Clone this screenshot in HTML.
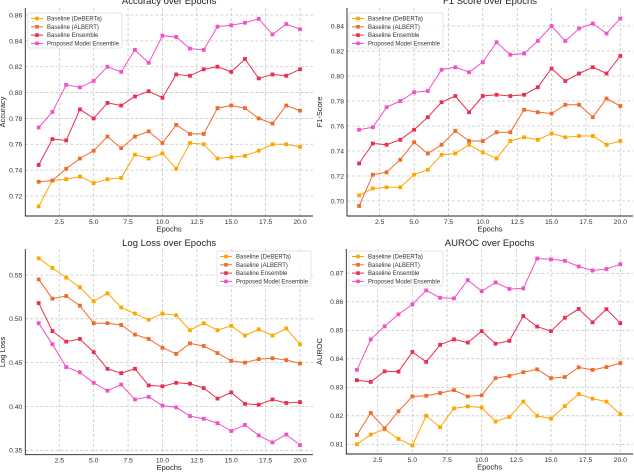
<!DOCTYPE html>
<html><head><meta charset="utf-8">
<style>
html,body{margin:0;padding:0;background:#fff;width:634px;height:472px;overflow:hidden}
svg{display:block;font-family:"Liberation Sans",sans-serif}
</style></head>
<body>
<svg id="fig" width="634" height="472" viewBox="0 0 634 472"></svg>
<script>
const epochs=[1,2,3,4,5,6,7,8,9,10,11,12,13,14,15,16,17,18,19,20];
const seriesNames=["Baseline (DeBERTa)","Baseline (ALBERT)","Baseline Ensemble","Proposed Model Ensemble"];
const colors=["#ffa500","#f26a2b","#e92e50","#f251c6"];
const xTicks=[2.5,5.0,7.5,10.0,12.5,15.0,17.5,20.0];

const accDeberta=[0.712,0.732,0.733,0.735,0.730,0.733,0.734,0.752,0.749,0.753,0.741,0.761,0.760,0.749,0.750,0.751,0.755,0.760,0.760,0.758];
const accAlbert=[0.731,0.732,0.741,0.749,0.755,0.766,0.757,0.766,0.770,0.761,0.775,0.768,0.768,0.788,0.790,0.788,0.780,0.776,0.790,0.786];
const accEnsemble=[0.744,0.764,0.763,0.787,0.780,0.792,0.790,0.797,0.801,0.796,0.814,0.813,0.818,0.820,0.816,0.826,0.811,0.814,0.813,0.818];
const accProposed=[0.773,0.785,0.806,0.804,0.809,0.820,0.816,0.833,0.823,0.844,0.843,0.834,0.833,0.851,0.852,0.854,0.857,0.845,0.853,0.849];
const accTicks=[0.72,0.74,0.76,0.78,0.80,0.82,0.84,0.86];

const f1Deberta=[0.7045,0.710,0.711,0.711,0.721,0.725,0.737,0.738,0.745,0.739,0.734,0.748,0.751,0.749,0.754,0.751,0.752,0.752,0.745,0.748];
const f1Albert=[0.696,0.721,0.723,0.733,0.747,0.738,0.745,0.756,0.748,0.748,0.755,0.755,0.773,0.771,0.770,0.777,0.777,0.767,0.782,0.776];
const f1Ensemble=[0.730,0.746,0.745,0.749,0.757,0.767,0.779,0.784,0.771,0.784,0.785,0.784,0.785,0.791,0.806,0.796,0.802,0.807,0.802,0.816];
const f1Proposed=[0.757,0.759,0.775,0.780,0.787,0.788,0.805,0.807,0.803,0.811,0.827,0.817,0.818,0.828,0.840,0.828,0.838,0.842,0.834,0.846];
const f1Ticks=[0.70,0.72,0.74,0.76,0.78,0.80,0.82,0.84];

const llDeberta=[0.569,0.558,0.547,0.536,0.520,0.529,0.513,0.506,0.499,0.506,0.504,0.487,0.495,0.487,0.492,0.481,0.488,0.481,0.489,0.471];
const llAlbert=[0.545,0.523,0.526,0.515,0.495,0.495,0.493,0.482,0.477,0.467,0.460,0.472,0.469,0.461,0.452,0.450,0.454,0.455,0.453,0.449];
const llEnsemble=[0.518,0.486,0.474,0.477,0.462,0.443,0.438,0.443,0.424,0.423,0.427,0.426,0.421,0.409,0.416,0.403,0.402,0.408,0.404,0.405];
const llProposed=[0.495,0.471,0.445,0.439,0.427,0.418,0.425,0.408,0.411,0.401,0.399,0.389,0.386,0.381,0.372,0.379,0.367,0.359,0.368,0.356];
const llTicks=[0.35,0.40,0.45,0.50,0.55];

const aucDeberta=[0.810,0.8134,0.8153,0.8119,0.8096,0.820,0.816,0.8226,0.8233,0.8229,0.818,0.8196,0.825,0.820,0.819,0.8234,0.8276,0.826,0.825,0.8206];
const aucAlbert=[0.8133,0.821,0.8156,0.8216,0.8268,0.827,0.828,0.829,0.8268,0.8272,0.8332,0.834,0.8353,0.8363,0.8332,0.8336,0.837,0.8361,0.8371,0.8385];
const aucEnsemble=[0.8325,0.8319,0.8356,0.8355,0.8424,0.8389,0.8449,0.8468,0.8457,0.8497,0.8453,0.8463,0.855,0.8513,0.8497,0.8544,0.8575,0.8528,0.8574,0.8525];
const aucProposed=[0.8361,0.8468,0.8514,0.8556,0.8591,0.864,0.8614,0.8612,0.8676,0.8637,0.8668,0.8645,0.8647,0.8752,0.8749,0.8744,0.8724,0.871,0.8715,0.8732];
const aucTicks=[0.81,0.82,0.83,0.84,0.85,0.86,0.87];

const NS="http://www.w3.org/2000/svg";
const svg=document.getElementById('fig');
function mk(tag,attrs,parent){const e=document.createElementNS(NS,tag);for(const k in attrs)e.setAttribute(k,attrs[k]);(parent||svg).appendChild(e);return e;}

function drawChart(c){
  const g=mk('g',{});
  
  
  const sx=v=>c.x1p+(v-c.x1v)*(c.x2p-c.x1p)/(c.x2v-c.x1v);
  const sy=v=>c.y1p+(v-c.y1v)*(c.y2p-c.y1p)/(c.y2v-c.y1v);
  xTicks.forEach(t=>{
    const l=mk('line',{x1:sx(t),x2:sx(t),y1:c.top,y2:c.bottom,stroke:'#c8c8c8','stroke-width':0.8,'stroke-dasharray':'3,2'},g);
    
    
    const tx=mk('text',{x:sx(t),y:c.bottom+8,'font-size':6.8,fill:'#333','text-anchor':'middle'},g);
    tx.textContent=t.toFixed(1);
    
    
  });
  c.yticks.forEach(t=>{
    const l=mk('line',{x1:c.left,x2:c.right,y1:sy(t),y2:sy(t),stroke:'#c8c8c8','stroke-width':0.8,'stroke-dasharray':'3,2'},g);
    
    
    const tx=mk('text',{x:c.left-3,y:sy(t)+2.4,'font-size':6.8,fill:'#333','text-anchor':'end'},g);
    tx.textContent=t.toFixed(2);
    
    
  });
  const ax=mk('path',{d:`M${c.left},${c.top}V${c.bottom}H${c.right}`,stroke:'#222','stroke-width':0.9,fill:'none'},g);
  
  
  c.series.forEach((vals,i)=>{
    const pts=vals.map((v,j)=>sx(epochs[j]).toFixed(1)+','+sy(v).toFixed(1)).join(' ');
    const pl=mk('polyline',{points:pts,fill:'none',stroke:colors[i],'stroke-width':1},g);
    
    
    vals.forEach((v,j)=>{
      const r=mk('rect',{x:sx(epochs[j])-1.9,y:sy(v)-1.9,width:3.8,height:3.8,fill:colors[i]},g);
      
      
    });
  });
  const ti=mk('text',{x:(c.left+c.right)/2,y:c.titleY,'font-size':9.5,fill:'#222','text-anchor':'middle'},g);
  ti.textContent=c.title;
  
  
  const xl=mk('text',{x:(c.left+c.right)/2,y:c.bottom+15.5,'font-size':7.5,fill:'#222','text-anchor':'middle'},g);
  xl.textContent='Epochs';
  
  
  const yc=(c.top+c.bottom)/2;
  const yl=mk('text',{x:c.ylabX,y:yc,'font-size':7.5,fill:'#222','text-anchor':'middle',transform:`rotate(-90 ${c.ylabX} ${yc})`},g);
  yl.textContent=c.ylabel;
  
  
  const lg=mk('g',{},g);
  
  
  mk('rect',{x:c.lx,y:c.ly,width:94,height:35,fill:'#fff','fill-opacity':0.85,stroke:'#ddd','stroke-width':0.7,rx:1.5},lg);
  seriesNames.forEach((n,i)=>{
    const yy=c.ly+5.5+i*8.3;
    const e=mk('g',{},lg);
    
    
    mk('line',{x1:c.lx+3,x2:c.lx+15,y1:yy,y2:yy,stroke:colors[i],'stroke-width':1},e);
    mk('rect',{x:c.lx+7.2,y:yy-1.8,width:3.6,height:3.6,fill:colors[i]},e);
    const t=mk('text',{x:c.lx+19,y:yy+2.1,'font-size':6,fill:'#333'},e);
    t.textContent=n;
  });
}

drawChart({name:'accuracy-chart',title:'Accuracy over Epochs',ylabel:'Accuracy',series:[accDeberta,accAlbert,accEnsemble,accProposed],yticks:accTicks,
  x1v:2.5,x1p:59.3,x2v:20,x2p:300,y1v:0.72,y1p:196,y2v:0.86,y2p:15,left:25.3,right:313,top:8,bottom:216,titleY:4,ylabX:5,lx:28,ly:13});
drawChart({name:'f1-chart',title:'F1 Score over Epochs',ylabel:'F1-Score',series:[f1Deberta,f1Albert,f1Ensemble,f1Proposed],yticks:f1Ticks,
  x1v:2.5,x1p:379.7,x2v:20,x2p:620.3,y1v:0.70,y1p:201,y2v:0.84,y2p:26,left:347,right:633,top:8,bottom:216,titleY:4,ylabX:322,lx:349,ly:13});
drawChart({name:'logloss-chart',title:'Log Loss over Epochs',ylabel:'Log Loss',series:[llDeberta,llAlbert,llEnsemble,llProposed],yticks:llTicks,
  x1v:2.5,x1p:59.3,x2v:20,x2p:300,y1v:0.55,y1p:275,y2v:0.35,y2p:450.3,left:25.3,right:313,top:249,bottom:454.7,titleY:246,ylabX:5,lx:217,ly:251});
drawChart({name:'auroc-chart',title:'AUROC over Epochs',ylabel:'AUROC',series:[aucDeberta,aucAlbert,aucEnsemble,aucProposed],yticks:aucTicks,
  x1v:2.5,x1p:377.7,x2v:20,x2p:620.3,y1v:0.81,y1p:444.3,y2v:0.87,y2p:273.3,left:346.3,right:633,top:249,bottom:454,titleY:246,ylabX:322,lx:349,ly:251});
</script>
</body></html>
